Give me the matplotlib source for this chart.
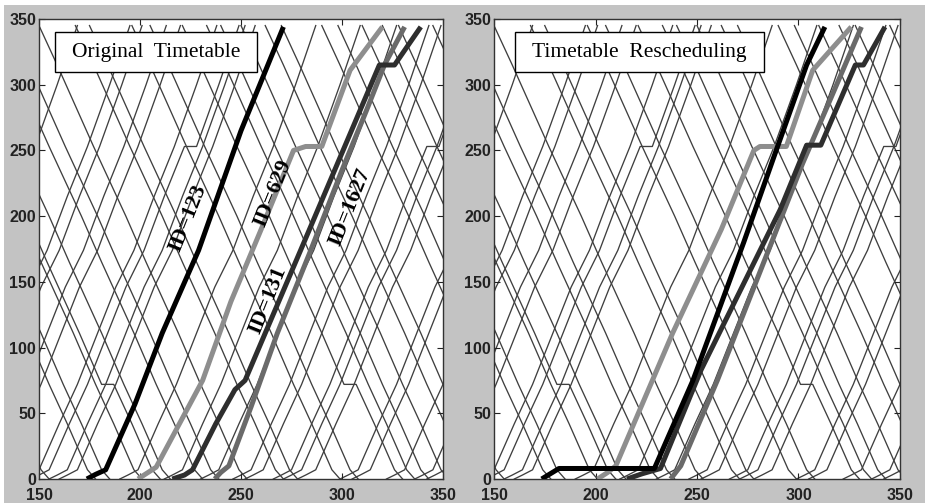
import matplotlib
matplotlib.use('Agg')
import matplotlib.pyplot as plt
from matplotlib.patches import Rectangle

# running profiles (minutes after departure, km)
up_t = [0, 4, 9, 19, 28, 38, 47, 56, 66, 76, 87, 97]
up_y = [0, 3, 7, 42, 72, 111, 146, 174, 215, 253, 300, 345]
dn_t = [0, 9, 27, 43, 53, 69, 80, 89, 99, 103]
dn_y = [345, 315, 253, 200, 165, 111, 72, 42, 7, 0]

# background trains: departure times
up_fast = [45, 52, 72, 98, 104, 116, 123, 141, 155, 160, 190, 212, 230, 246, 252,
           271, 278, 299, 305, 322, 336, 342]
up_stop = [146, 266]          # dwell at 253
dn_fast = [45, 52, 75, 82, 98, 112, 128, 136, 150, 168, 175, 196, 205, 233, 240,
           250, 262, 270, 290, 298, 310, 320, 328, 345]
dn_stop = [101, 221]          # dwell at 72

# highlighted trains, original timetable
orig_123_t = [173.7, 178, 183, 197.5, 211, 221, 229, 250, 271]
orig_123_y = [0, 3.5, 7, 57, 111, 146, 174, 265, 344]
orig_629_t = [199, 204, 208, 231, 245, 260, 276, 282, 290, 304, 320]
orig_629_y = [0, 5, 9, 75, 135, 190, 250, 253, 253, 311, 344]
orig_131_t = [216, 222, 226, 237.5, 247, 252, 279.5, 318.5, 326, 339]
orig_131_y = [0, 3, 7, 42, 68, 75, 174, 315, 315, 344]
orig_1627_t = [237, 240, 244, 255, 268, 284, 300, 312, 321, 331]
orig_1627_y = [0, 5, 10, 55, 111, 172, 235, 280, 315, 344]

# highlighted trains, rescheduled
res_123_t = [173.5, 182, 229, 248, 273, 289, 304, 313]
res_123_y = [0, 8, 8, 75, 180, 250, 315, 344]
res_629_t = [201, 206, 210, 238, 262, 278, 281, 294, 307, 326]
res_629_y = [0, 5, 10, 111, 190, 250, 253, 253, 311, 344]
res_131_t = [215.5, 223, 232, 252, 291, 304, 311, 328, 332, 342.6]
res_131_y = [0, 4, 8, 83, 205, 254, 254, 315, 315, 344]
res_1627_t = [237, 242, 260, 288, 302, 316, 331]
res_1627_y = [0, 10, 75, 185, 240, 290, 344]

labels = ['ID=123', 'ID=629', 'ID=131', 'ID=1627']
label_x = [223.5, 265.6, 263.2, 303.9]
label_y = [198.6, 217.6, 136.2, 207.0]

thick_colors = ['#000000', '#8e8e8e', '#2e2e2e', '#6a6a6a']
thin_color = '#3f3f3f'


def build(dep, t_prof, y_prof, stops, dwell=6):
    xs, ys = [], []
    shift = 0
    for t, y in zip(t_prof, y_prof):
        xs.append(dep + t + shift)
        ys.append(y)
        if y in stops:
            shift += dwell
            xs.append(dep + t + shift)
            ys.append(y)
    return xs, ys


def draw_background(ax):
    for d in up_fast:
        xs, ys = build(d, up_t, up_y, [])
        ax.plot(xs, ys, color=thin_color, lw=0.95, zorder=1)
    for d in up_stop:
        xs, ys = build(d, up_t, up_y, [253])
        ax.plot(xs, ys, color=thin_color, lw=0.95, zorder=1)
    for d in dn_fast:
        xs, ys = build(d, dn_t, dn_y, [])
        ax.plot(xs, ys, color=thin_color, lw=0.95, zorder=1)
    for d in dn_stop:
        xs, ys = build(d, dn_t, dn_y, [72])
        ax.plot(xs, ys, color=thin_color, lw=0.95, zorder=1)


def style(ax, title, box_x0, box_x1):
    ax.set_xlim(150, 350)
    ax.set_ylim(0, 350)
    ax.set_xticks([150, 200, 250, 300, 350])
    ax.set_yticks([0, 50, 100, 150, 200, 250, 300, 350])
    ax.tick_params(direction='in', length=4, width=0.8, top=True, right=True,
                   labelsize=11.5, pad=2, colors='#222222')
    ax.tick_params(axis='x', pad=6.5)
    for lab in ax.get_xticklabels() + ax.get_yticklabels():
        lab.set_fontfamily('Liberation Sans')
        lab.set_fontweight('bold')
    for sp in ax.spines.values():
        sp.set_color('#333333')
        sp.set_linewidth(1.0)
    ax.add_patch(Rectangle((box_x0, 0.8848), box_x1 - box_x0, 0.0869,
                           transform=ax.transAxes, facecolor='white',
                           edgecolor='black', lw=1.0, zorder=5))
    ax.text((box_x0 + box_x1) / 2, 0.928, title, transform=ax.transAxes,
            ha='center', va='center', fontsize=15.5, family='Liberation Serif',
            zorder=6)


fig = plt.figure(figsize=(9.28, 5.03), dpi=100, facecolor='white')
fig.patches.append(Rectangle((4 / 928, 0), 921 / 928, 498 / 503,
                             transform=fig.transFigure, facecolor='#c3c3c3',
                             edgecolor='none', zorder=-10))

ax1 = fig.add_axes([39 / 928, 24 / 503, 404 / 928, 460 / 503])
ax2 = fig.add_axes([494 / 928, 24 / 503, 406 / 928, 460 / 503])

draw_background(ax1)
draw_background(ax2)

orig = [(orig_123_t, orig_123_y), (orig_629_t, orig_629_y),
        (orig_131_t, orig_131_y), (orig_1627_t, orig_1627_y)]
res = [(res_123_t, res_123_y), (res_629_t, res_629_y),
       (res_131_t, res_131_y), (res_1627_t, res_1627_y)]

for i in [1, 3, 2, 0]:
    ax1.plot(orig[i][0], orig[i][1], color=thick_colors[i], lw=3.6, zorder=3,
             solid_capstyle='butt', solid_joinstyle='round')
    ax2.plot(res[i][0], res[i][1], color=thick_colors[i], lw=3.6, zorder=3,
             solid_capstyle='butt', solid_joinstyle='round')

for lab, lx, ly in zip(labels, label_x, label_y):
    ax1.text(lx, ly, lab, rotation=68, ha='center', va='center', fontsize=16,
             fontweight='bold', family='Liberation Serif', zorder=6)

style(ax1, 'Original  Timetable', 0.0396, 0.5396)
style(ax2, 'Timetable  Rescheduling', 0.0517, 0.665)

fig.savefig('out.png', dpi=100, facecolor=fig.get_facecolor())
